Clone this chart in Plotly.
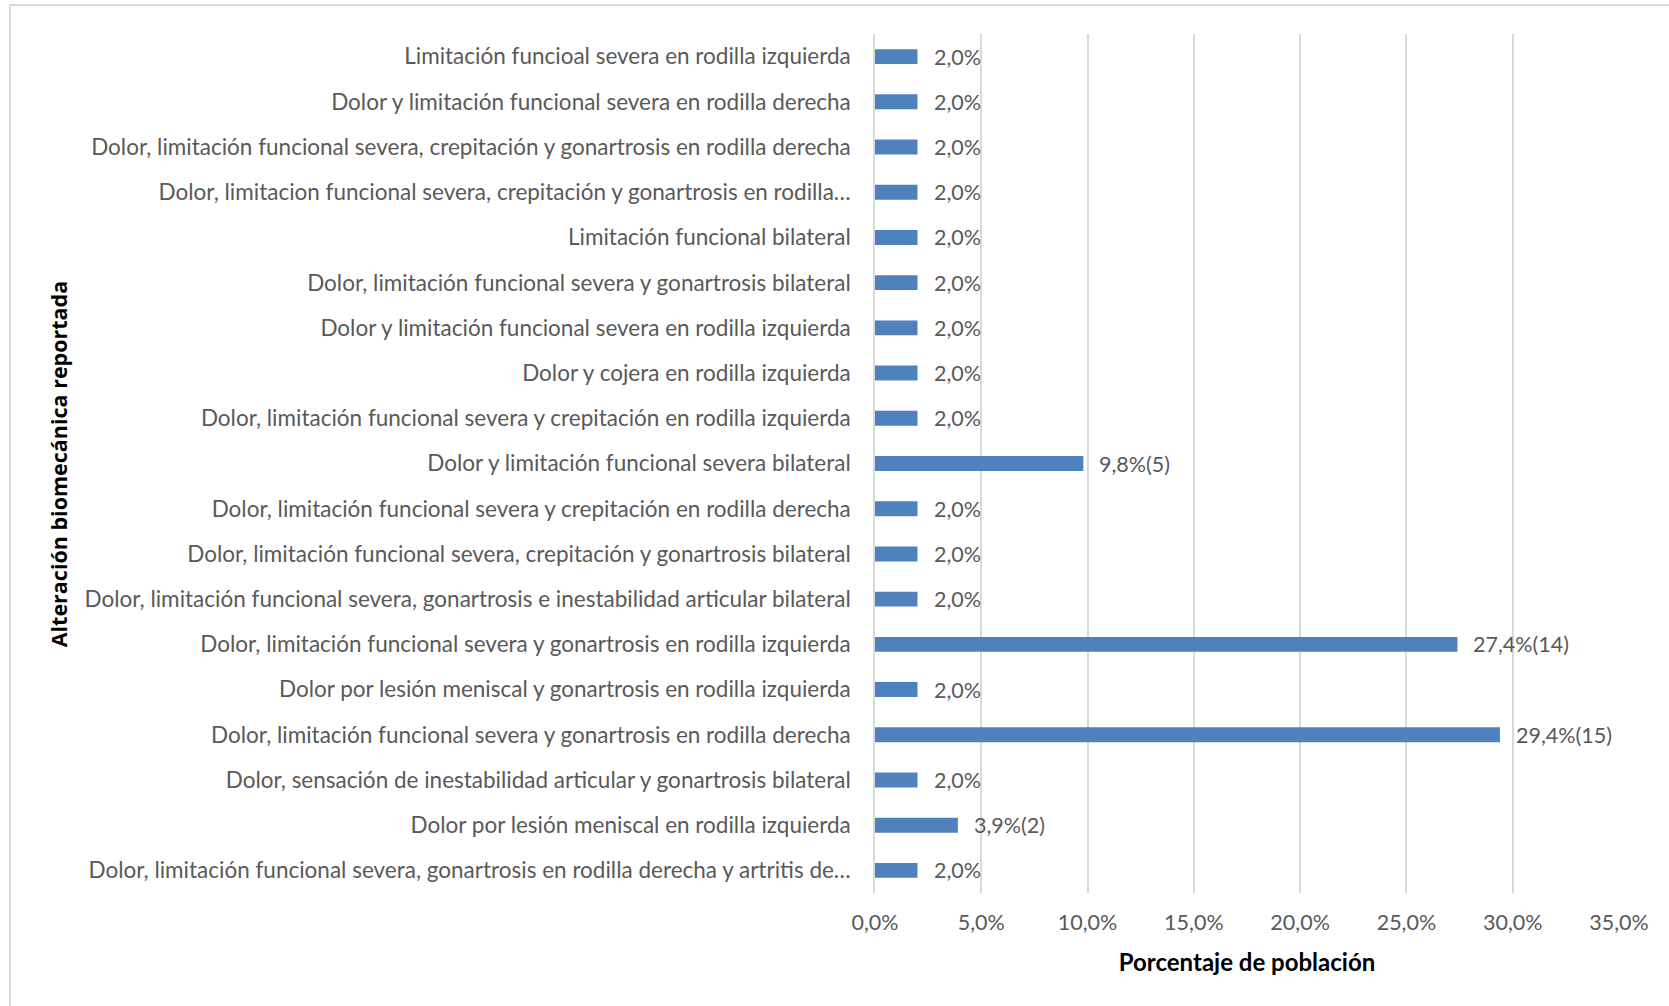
import plotly.graph_objects as go

# Categories listed from top to bottom as they appear on the chart
categories = [
    "Limitación funcioal severa en rodilla izquierda",
    "Dolor y limitación funcional severa en rodilla derecha",
    "Dolor, limitación funcional severa, crepitación y gonartrosis en rodilla derecha",
    "Dolor, limitacion funcional severa, crepitación y gonartrosis en rodilla…",
    "Limitación funcional bilateral",
    "Dolor, limitación funcional severa y gonartrosis bilateral",
    "Dolor y limitación funcional severa en rodilla izquierda",
    "Dolor y cojera en rodilla izquierda",
    "Dolor, limitación funcional severa y crepitación en rodilla izquierda",
    "Dolor y limitación funcional severa bilateral",
    "Dolor, limitación funcional severa y crepitación en rodilla derecha",
    "Dolor, limitación funcional severa, crepitación y gonartrosis bilateral",
    "Dolor, limitación funcional severa, gonartrosis e inestabilidad articular bilateral",
    "Dolor, limitación funcional severa y gonartrosis en rodilla izquierda",
    "Dolor por lesión meniscal y gonartrosis en rodilla izquierda",
    "Dolor, limitación funcional severa y gonartrosis en rodilla derecha",
    "Dolor, sensación de inestabilidad articular y gonartrosis bilateral",
    "Dolor por lesión meniscal en rodilla izquierda",
    "Dolor, limitación funcional severa, gonartrosis en rodilla derecha y artritis de…",
]

# Percentage of the population and number of cases
percentages = [2.0, 2.0, 2.0, 2.0, 2.0, 2.0, 2.0, 2.0, 2.0, 9.8,
               2.0, 2.0, 2.0, 27.4, 2.0, 29.4, 2.0, 3.9, 2.0]
counts = [1, 1, 1, 1, 1, 1, 1, 1, 1, 5,
          1, 1, 1, 14, 1, 15, 1, 2, 1]

x_ticks = [0, 5, 10, 15, 20, 25, 30, 35]


def fmt_pct(v):
    return f"{v:.1f}".replace(".", ",") + "%"


labels = [fmt_pct(v) + (f"({n})" if n > 1 else "") for v, n in zip(percentages, counts)]

TEXT_FONT = "Lato, 'Open Sans', sans-serif"
GREY = "#595959"
GRID = "#d9d9d9"

fig = go.Figure(
    go.Bar(
        x=percentages,
        y=categories,
        orientation="h",
        marker=dict(color="#4f81bd", line=dict(width=0)),
        hoverinfo="x+y",
    )
)

# Value labels placed just past the end of each bar
for cat, v, lab in zip(categories, percentages, labels):
    fig.add_annotation(
        x=v, y=cat, xref="x", yref="y",
        text=lab, showarrow=False,
        xanchor="left", yanchor="middle", xshift=14,
        font=dict(family=TEXT_FONT, size=21.5, color=GREY),
    )

# Vertical axis title
fig.add_annotation(
    x=-1.097, y=0.5, xref="paper", yref="paper",
    text="<b>Alteración biomecánica reportada</b>",
    textangle=-90, showarrow=False,
    xanchor="center", yanchor="middle",
    font=dict(family="'Open Sans', sans-serif", size=21.5, color="#000000"),
)

# Light outer frame of the chart area
fig.add_shape(
    type="rect", xref="paper", yref="paper",
    x0=-1.1626, y0=-0.4, x1=1.3, y1=1.0338,
    line=dict(color=GRID, width=2), fillcolor="rgba(0,0,0,0)", layer="below",
)

fig.update_layout(
    width=1669,
    height=1006,
    margin=dict(l=875, r=50, t=34, b=113),
    paper_bgcolor="#ffffff",
    plot_bgcolor="#ffffff",
    separators=",.",
    bargap=0.67,
    showlegend=False,
    xaxis=dict(
        range=[0, 35],
        tickvals=x_ticks,
        ticktext=[fmt_pct(v) for v in x_ticks],
        showgrid=True,
        gridcolor=GRID,
        gridwidth=1.5,
        zeroline=False,
        showline=False,
        ticks="",
        ticklabelstandoff=14,
        tickfont=dict(family=TEXT_FONT, size=21.5, color=GREY),
        title=dict(
            text="<b>Porcentaje de población</b>",
            font=dict(family=TEXT_FONT, size=24, color="#000000"),
            standoff=20,
        ),
        fixedrange=True,
    ),
    yaxis=dict(
        autorange="reversed",
        showgrid=False,
        showline=True,
        linecolor=GRID,
        linewidth=1.5,
        ticks="",
        ticklabelstandoff=18,
        tickfont=dict(family=TEXT_FONT, size=22.5, color=GREY),
        automargin=False,
        fixedrange=True,
    ),
)

fig.write_html("out.html")
